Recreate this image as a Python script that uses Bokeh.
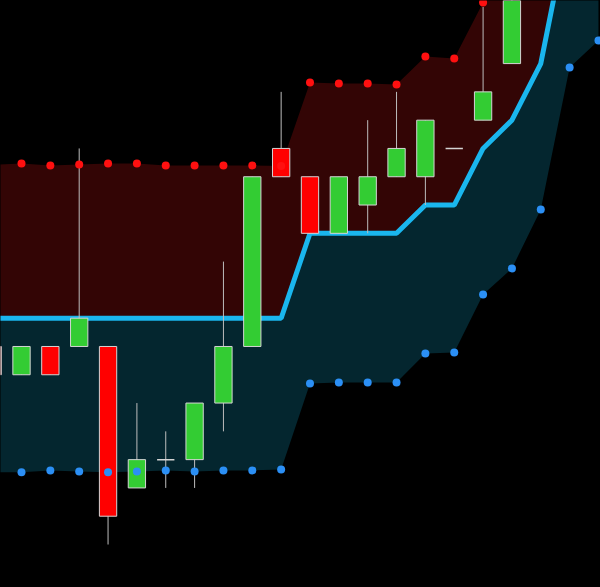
from bokeh.plotting import figure
from bokeh.models import Range1d, GlobalInlineStyleSheet
from bokeh.embed import file_html
from bokeh.resources import INLINE

# ---- data (price levels) ----
idx = list(range(22))
# candles (only the ones inside the view)
c_idx  = list(range(19))
opens  = [7, 6, 7, 7, 7, 2, 3, 3, 5, 7, 14, 13, 11, 12, 13, 13, 14, 15, 17]
closes = [6, 7, 6, 8, 1, 3, 3, 5, 7, 13, 13, 11, 13, 13, 14, 15, 14, 16, 21]
highs  = [7, 7, 7, 14, 7, 5, 4, 5, 10, 13, 16, 13, 13, 15, 16, 15, 14, 19, 21]
lows   = [6, 6, 6, 7, 0, 2, 2, 2, 4, 7, 13, 11, 11, 11, 13, 12, 14, 15, 17]

upper = [13.42, 13.47, 13.40, 13.43, 13.47, 13.47, 13.40, 13.40, 13.40, 13.40, 13.38,
         16.33, 16.30, 16.30, 16.26, 17.25, 17.18, 19.16, 20.3, 21.6, 23.2, 24.0]
lower = [2.55, 2.55, 2.62, 2.58, 2.55, 2.58, 2.62, 2.58, 2.62, 2.62, 2.65,
         5.69, 5.73, 5.73, 5.73, 6.75, 6.79, 8.84, 9.76, 11.84, 16.86, 17.82]
mid   = [8, 8, 8, 8, 8, 8, 8, 8, 8, 8, 8, 11, 11, 11, 11, 12, 12, 14, 15, 17, 22.1, 25.0]

BG = "#000000"
RED_FILL = "#330505"
TEAL_FILL = "#04262f"
MID_COL = "#1ab6ee"
UP_COL = "#33cc33"
DN_COL = "#ff0000"
EDGE = "#d4d4d4"
WICK = "#bdbdbd"

up_flags = [c > o for o, c in zip(opens, closes)]
dn_flags = [c < o for o, c in zip(opens, closes)]
eq_flags = [c == o for o, c in zip(opens, closes)]

def pick(flags):
    return dict(
        x=[i for i, f in zip(c_idx, flags) if f],
        top=[max(o, c) for o, c, f in zip(opens, closes, flags) if f],
        bottom=[min(o, c) for o, c, f in zip(opens, closes, flags) if f],
    )

p = figure(width=600, height=587, output_backend="svg", toolbar_location=None,
           x_range=Range1d(0.272, 21.07), y_range=Range1d(-1.52, 19.23),
           background_fill_color=BG, border_fill_color=BG,
           min_border=0, outline_line_color=None)
p.axis.visible = False
p.grid.visible = False
p.stylesheets = [GlobalInlineStyleSheet(css="body{margin:0;background:#000;overflow:hidden;}")]

# band fills
p.varea(x=idx, y1=mid, y2=upper, fill_color=RED_FILL)
p.varea(x=idx, y1=lower, y2=mid, fill_color=TEAL_FILL)

# mid line
p.line(idx, mid, line_color=MID_COL, line_width=5)

# wicks
p.segment(x0=c_idx, y0=lows, x1=c_idx, y1=highs, line_color=WICK, line_width=1)

# candle bodies
W = 0.6
u = pick(up_flags)
p.vbar(x=u["x"], top=u["top"], bottom=u["bottom"], width=W,
       fill_color=UP_COL, line_color=EDGE, line_width=1)
d = pick(dn_flags)
p.vbar(x=d["x"], top=d["top"], bottom=d["bottom"], width=W,
       fill_color=DN_COL, line_color=EDGE, line_width=1)
e = pick(eq_flags)
p.segment(x0=[x - W / 2 for x in e["x"]], y0=e["top"],
          x1=[x + W / 2 for x in e["x"]], y1=e["top"],
          line_color=EDGE, line_width=1.5)

# band dots
p.scatter(idx, upper, size=8, fill_color="#ff1010", line_color=None)
p.scatter(idx, lower, size=8, fill_color="#2b8ff5", line_color=None)

open("out.html", "w").write(file_html(p, INLINE))
